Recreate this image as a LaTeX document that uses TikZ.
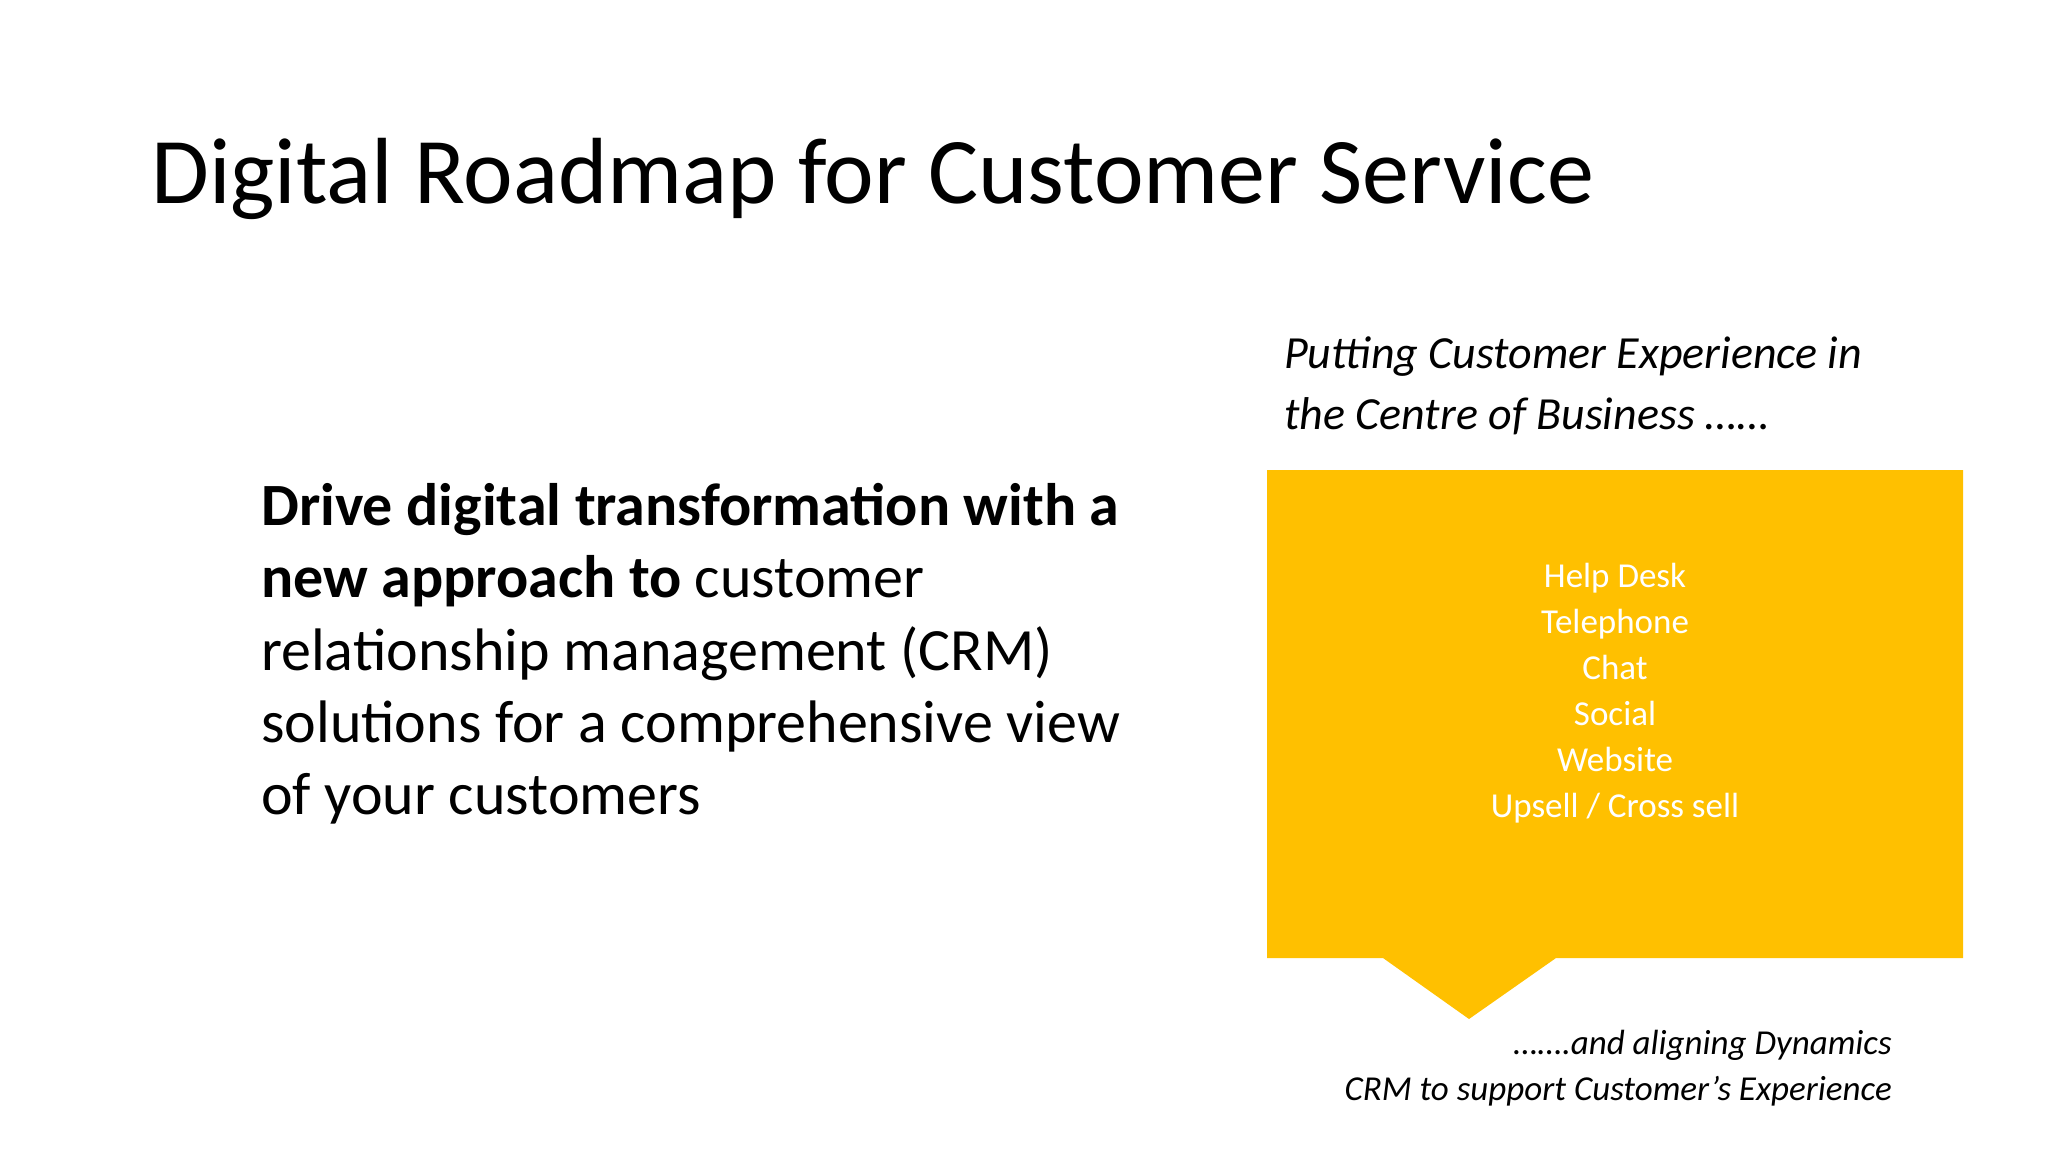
\documentclass[tikz,border=0pt]{standalone}
\usepackage{fontspec}
\setmainfont{Carlito}
\definecolor{gold}{HTML}{FFC000}
\begin{document}
\begin{tikzpicture}[x=1pt,y=-1pt,
  body/.style={anchor=base west,inner sep=0pt,font=\fontsize{60}{72}\selectfont},
  itl/.style={inner sep=0pt,font=\fontsize{46}{60}\selectfont\itshape},
  lst/.style={anchor=base,inner sep=0pt,text=white,font=\fontsize{35}{46}\selectfont}]
\useasboundingbox (0,0) rectangle (2048,1152);
\node[anchor=base west,inner sep=0pt,font=\fontsize{94}{110}\selectfont] (title) at (151,203) {Digital Roadmap for Customer Service};
\node[body] (b1) at (261,525) {\textbf{Drive digital transformation with a}};
\node[body] (b2) at (261,597) {\textbf{new approach to} customer};
\node[body] (b3) at (261,670) {relationship management (CRM)};
\node[body] (b4) at (261,742) {solutions for a comprehensive view};
\node[body] (b5) at (261,814) {of your customers};
\node[itl,anchor=base west] (h1) at (1284,368) {Putting Customer Experience in};
\node[itl,anchor=base west] (h2) at (1284,429) {the Centre of Business \ldots\ldots};
\fill[gold] (1267,470) -- (1963,470) -- (1963,958) -- (1556,958) -- (1469,1019) -- (1383,958) -- (1267,958) -- cycle;
\node[lst] (l1) at (1615,587) {Help Desk};
\node[lst] (l2) at (1615,633) {Telephone};
\node[lst] (l3) at (1615,679) {Chat};
\node[lst] (l4) at (1615,725) {Social};
\node[lst] (l5) at (1615,771) {Website};
\node[lst] (l6) at (1615,817) {Upsell / Cross sell};
\node[itl,anchor=base east,font=\fontsize{35}{46}\selectfont\itshape] (f1) at (1892,1054) {\ldots\ldots.and aligning Dynamics};
\node[itl,anchor=base east,font=\fontsize{35}{46}\selectfont\itshape] (f2) at (1892,1100) {CRM to support Customer’s Experience};
\end{tikzpicture}
\end{document}
